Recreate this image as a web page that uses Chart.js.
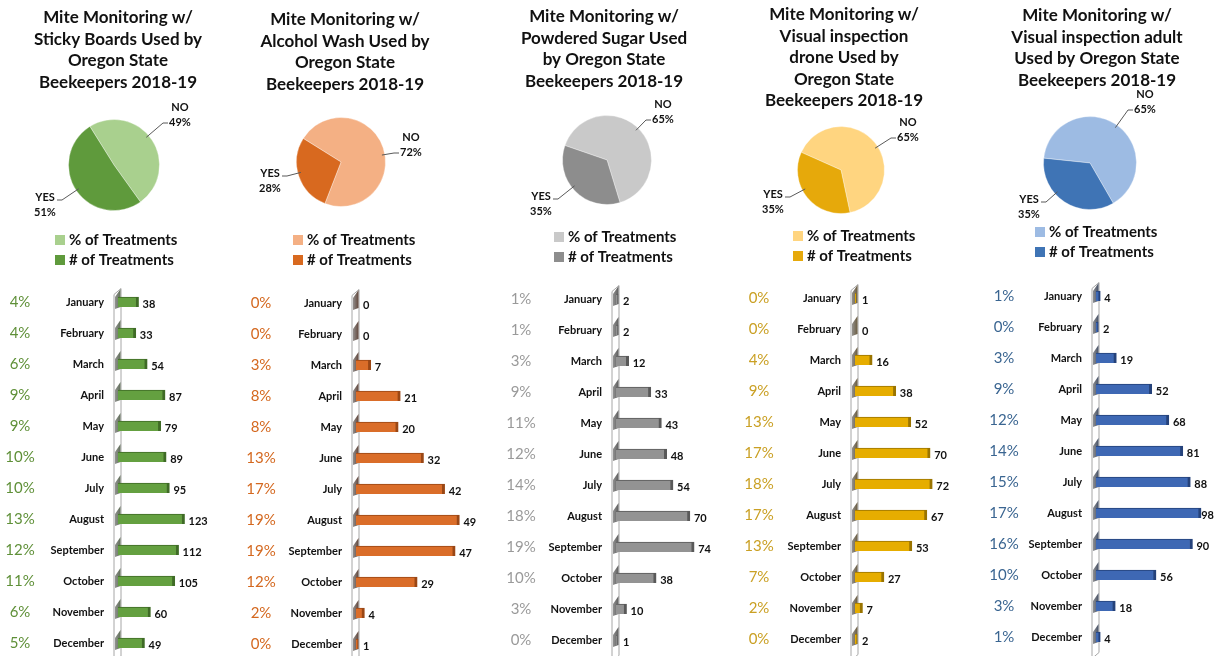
<!DOCTYPE html>
<html>
<head>
<meta charset="utf-8">
<script src="https://cdn.jsdelivr.net/npm/chart.js@4.4.1/dist/chart.umd.min.js"></script>
<style>
  html, body { margin: 0; padding: 0; background: #ffffff; }
  body { width: 1215px; height: 656px; overflow: hidden; position: relative; }
  .panel { position: absolute; top: 0; width: 243px; height: 656px; }
  .panel canvas { position: absolute; left: 0; }
</style>
</head>
<body>
<div id="root"></div>
<script>
// ---------------- DATA ----------------
const months = ['January','February','March','April','May','June','July','August','September','October','November','December'];
const pieLabels = ['NO', 'YES'];
const legendLabels = ['% of Treatments', '# of Treatments'];

const stickyTitle = ['Mite Monitoring w/', 'Sticky Boards Used by', 'Oregon State', 'Beekeepers 2018-19'];
const stickyPie = [49, 51];
const stickyCounts = [38, 33, 54, 87, 79, 89, 95, 123, 112, 105, 60, 49];
const stickyPct = [4, 4, 6, 9, 9, 10, 10, 13, 12, 11, 6, 5];

const alcoholTitle = ['Mite Monitoring w/', 'Alcohol Wash Used by', 'Oregon State', 'Beekeepers 2018-19'];
const alcoholPie = [72, 28];
const alcoholCounts = [0, 0, 7, 21, 20, 32, 42, 49, 47, 29, 4, 1];
const alcoholPct = [0, 0, 3, 8, 8, 13, 17, 19, 19, 12, 2, 0];

const sugarTitle = ['Mite Monitoring w/', 'Powdered Sugar Used', 'by Oregon State', 'Beekeepers 2018-19'];
const sugarPie = [65, 35];
const sugarCounts = [2, 2, 12, 33, 43, 48, 54, 70, 74, 38, 10, 1];
const sugarPct = [1, 1, 3, 9, 11, 12, 14, 18, 19, 10, 3, 0];

const droneTitle = ['Mite Monitoring w/', 'Visual inspection', 'drone Used by', 'Oregon State', 'Beekeepers 2018-19'];
const dronePie = [65, 35];
const droneCounts = [1, 0, 16, 38, 52, 70, 72, 67, 53, 27, 7, 2];
const dronePct = [0, 0, 4, 9, 13, 17, 18, 17, 13, 7, 2, 0];

const adultTitle = ['Mite Monitoring w/', 'Visual inspection adult', 'Used by Oregon State', 'Beekeepers 2018-19'];
const adultPie = [65, 35];
const adultCounts = [4, 2, 19, 52, 68, 81, 88, 98, 90, 56, 18, 4];
const adultPct = [1, 0, 3, 9, 12, 14, 15, 17, 16, 10, 3, 1];

// ---------------- STYLE / LAYOUT ----------------
const FONT = 'Lato, "Open Sans", sans-serif';
const panels = [
  { title: stickyTitle, pie: stickyPie, counts: stickyCounts, pct: stickyPct,
    pieColors: ['#a9d08e', '#5f9a3c'], bar: '#64a040', barEdge: '#3f6b26', side: '#5d6b55', pctColor: '#5f9038',
    rotation: -32, cx: 114, cy: 165, r: 46, titleX: 118, titleY: 18, legX: 55, legY: 240,
    labelPos: [[180, 107], [45, 197]],
    axisX: 118, janY: 302, xMax: 231, pctX: 20 },
  { title: alcoholTitle, pie: alcoholPie, counts: alcoholCounts, pct: alcoholPct,
    pieColors: ['#f4b084', '#d8691f'], bar: '#da6d29', barEdge: '#9a4715', side: '#5e4236', pctColor: '#d4681f',
    rotation: -58, cx: 98, cy: 162, r: 45, titleX: 102, titleY: 20, legX: 50, legY: 240,
    labelPos: [[168, 137], [27, 173]],
    axisX: 113, janY: 303, xMax: 61.6, pctX: 18 },
  { title: sugarTitle, pie: sugarPie, counts: sugarCounts, pct: sugarPct,
    pieColors: ['#c9c9c9', '#8d8d8d'], bar: '#939393', barEdge: '#595959', side: '#5a5a5a', pctColor: '#9a9a9a',
    rotation: -71, cx: 121, cy: 160, r: 45, titleX: 118, titleY: 17, legX: 68, legY: 237,
    labelPos: [[177, 104], [55, 196]],
    axisX: 130, janY: 299, xMax: 107, pctX: 35 },
  { title: droneTitle, pie: dronePie, counts: droneCounts, pct: dronePct,
    pieColors: ['#ffd580', '#e6a90b'], bar: '#e6ad00', barEdge: '#9a7400', side: '#66573a', pctColor: '#caa024',
    rotation: -66, cx: 112, cy: 170, r: 44, titleX: 115, titleY: 15, legX: 64, legY: 236,
    labelPos: [[179, 122], [44, 194]],
    axisX: 126, janY: 298, xMax: 109, pctX: 30 },
  { title: adultTitle, pie: adultPie, counts: adultCounts, pct: adultPct,
    pieColors: ['#9dbbe3', '#3f74b5'], bar: '#3e68b4', barEdge: '#25427a', side: '#424d63', pctColor: '#3a6591',
    rotation: -84, cx: 118, cy: 163, r: 47, titleX: 125, titleY: 16, legX: 63, legY: 232,
    labelPos: [[173, 94], [57, 199]],
    axisX: 124, janY: 296, xMax: 111, pctX: 32 }
];

const PANEL_W = 243, PIE_H = 275, BAR_TOP = 250, ROW = 31, BAR_PAD_BOTTOM = 30;

Chart.defaults.font.family = FONT;

const root = document.getElementById('root');

panels.forEach((p, i) => {
  const div = document.createElement('div');
  div.className = 'panel';
  div.style.left = (i * PANEL_W) + 'px';
  root.appendChild(div);

  // ---------- pie ----------
  const pc = document.createElement('canvas');
  pc.width = PANEL_W; pc.height = PIE_H;
  pc.style.top = '0px';
  div.appendChild(pc);

  const piePlugin = {
    id: 'pieDecor' + i,
    afterDraw(chart) {
      const ctx = chart.ctx;
      ctx.save();
      // title
      ctx.fillStyle = '#111';
      ctx.font = '700 17px ' + FONT;
      ctx.textAlign = 'center';
      ctx.textBaseline = 'middle';
      p.title.forEach((line, k) => ctx.fillText(line, p.titleX, p.titleY + k * 21.5));
      // slice labels with leader lines
      const meta = chart.getDatasetMeta(0);
      meta.data.forEach((arc, k) => {
        const [lx, ly] = p.labelPos[k];
        const right = lx > arc.x;
        const axp = right ? lx - 17 : lx + 17;
        const ayp = right ? ly + 16 : ly + 3;
        const hx = right ? axp + 5 : axp - 5;
        const ddx = axp - arc.x, ddy = ayp - arc.y;
        const len = Math.hypot(ddx, ddy);
        const R = arc.outerRadius - 3;
        const ex = arc.x + ddx / len * R, ey = arc.y + ddy / len * R;
        ctx.strokeStyle = '#595959';
        ctx.lineWidth = 1;
        ctx.beginPath();
        ctx.moveTo(ex, ey); ctx.lineTo(axp, ayp); ctx.lineTo(hx, ayp);
        ctx.stroke();
        ctx.fillStyle = '#111';
        ctx.font = '700 11px ' + FONT;
        ctx.textAlign = 'center';
        ctx.fillText(chart.data.labels[k], lx, ly);
        ctx.fillText(chart.data.datasets[0].data[k] + '%', lx, ly + 15);
      });
      // legend
      ctx.font = '700 15px ' + FONT;
      ctx.textAlign = 'left';
      legendLabels.forEach((t, k) => {
        const y = p.legY + k * 20;
        ctx.fillStyle = p.pieColors[k];
        ctx.fillRect(p.legX, y - 5, 10, 10);
        ctx.fillStyle = '#111';
        ctx.fillText(t, p.legX + 14, y);
      });
      ctx.restore();
    }
  };

  new Chart(pc, {
    type: 'pie',
    data: {
      labels: pieLabels,
      datasets: [{
        data: p.pie,
        backgroundColor: p.pieColors,
        borderColor: 'rgba(255,255,255,0.35)',
        borderWidth: 1
      }]
    },
    options: {
      responsive: false,
      animation: false,
      devicePixelRatio: 1,
      rotation: p.rotation,
      layout: { padding: { left: p.cx - p.r, right: PANEL_W - (p.cx + p.r), top: p.cy - p.r, bottom: PIE_H - (p.cy + p.r) } },
      plugins: { legend: { display: false }, tooltip: { enabled: false }, title: { display: false } }
    },
    plugins: [piePlugin]
  });

  // ---------- bars ----------
  const areaTop = p.janY - ROW / 2 - BAR_TOP;
  const barH = Math.round(areaTop + ROW * 12 + BAR_PAD_BOTTOM);
  const areaBottom = barH - (areaTop + ROW * 12);

  const bc = document.createElement('canvas');
  bc.width = PANEL_W; bc.height = barH;
  bc.style.top = BAR_TOP + 'px';
  div.appendChild(bc);

  const barPlugin = {
    id: 'barDecor' + i,
    beforeDatasetsDraw(chart) {
      const ctx = chart.ctx;
      const meta = chart.getDatasetMeta(0);
      const ax = chart.chartArea.left;
      const L = ax - 4, Rr = ax + 3;
      ctx.save();
      // wall
      ctx.fillStyle = '#ffffff';
      ctx.strokeStyle = '#a6a6a6';
      ctx.lineWidth = 1;
      const top = chart.chartArea.top + 2, bot = Math.min(chart.chartArea.bottom, 656 - BAR_TOP);
      ctx.beginPath();
      ctx.moveTo(L, top + 6); ctx.lineTo(Rr, top); ctx.lineTo(Rr, bot); ctx.lineTo(L, bot + 6); ctx.closePath();
      ctx.fill(); ctx.stroke();
      // dark side segments per category
      meta.data.forEach(bar => {
        const y = bar.y;
        const g = ctx.createLinearGradient(L, 0, Rr, 0);
        g.addColorStop(0, '#9a9a9a');
        g.addColorStop(1, p.side);
        ctx.fillStyle = g;
        ctx.beginPath();
        ctx.moveTo(L + 1, y - 5);
        ctx.lineTo(Rr - 0.5, y - 13);
        ctx.lineTo(Rr - 0.5, y + 5);
        ctx.lineTo(L + 1, y + 7);
        ctx.closePath();
        ctx.fill();
      });
      ctx.restore();
    },
    afterDatasetsDraw(chart) {
      const ctx = chart.ctx;
      const meta = chart.getDatasetMeta(0);
      const data = chart.data.datasets[0].data;
      ctx.save();
      meta.data.forEach((bar, k) => {
        // value label
        ctx.font = '700 11px ' + FONT;
        ctx.fillStyle = '#111';
        ctx.textAlign = 'left';
        ctx.textBaseline = 'middle';
        const txt = String(data[k]);
        let x = Math.max(bar.x, bar.base + 3) + 4;
        const w = ctx.measureText(txt).width;
        if (x + w > chart.width - 1) x = chart.width - 1 - w;
        ctx.fillText(txt, x, bar.y + 2);
        // percent label
        ctx.font = '400 15px ' + FONT;
        ctx.fillStyle = p.pctColor;
        ctx.textAlign = 'center';
        ctx.fillText(p.pct[k] + '%', p.pctX, bar.y);
      });
      ctx.restore();
    }
  };

  new Chart(bc, {
    type: 'bar',
    data: {
      labels: months,
      datasets: [{
        data: p.counts,
        backgroundColor: p.bar,
        borderColor: p.barEdge,
        borderWidth: { top: 1, right: 3, bottom: 0, left: 0 },
        borderSkipped: false,
        barThickness: 10
      }]
    },
    options: {
      indexAxis: 'y',
      responsive: false,
      animation: false,
      devicePixelRatio: 1,
      layout: { padding: { left: 0, right: 0, top: areaTop, bottom: areaBottom } },
      scales: {
        x: { display: false, min: 0, max: p.xMax },
        y: {
          grid: { display: false, drawTicks: false },
          border: { display: false },
          ticks: { color: '#111', padding: 14, font: { family: FONT, weight: '700', size: 11 } },
          afterFit(scale) { scale.width = p.axisX; }
        }
      },
      plugins: { legend: { display: false }, tooltip: { enabled: false }, title: { display: false } }
    },
    plugins: [barPlugin]
  });
});
</script>
</body>
</html>
